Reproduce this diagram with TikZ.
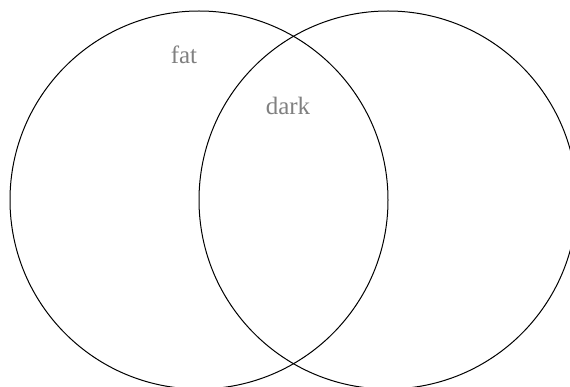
\documentclass[tikz,border=0pt]{standalone}
\usepackage{fontspec}
\setmainfont{Liberation Serif}
\usepackage{xcolor}
\usetikzlibrary{positioning}
\definecolor{labelgrey}{HTML}{808080}
\tikzset{
  setcircle/.style={
    circle, draw=black, line width=1pt, inner sep=0pt,
    minimum size=378pt
  },
  setlabel/.style={
    inner sep=0pt, text=labelgrey, font=\fontsize{25}{28}\selectfont
  },
}

\begin{document}
\begin{tikzpicture}[x=1pt,y=-1pt]
  \useasboundingbox (0,0) rectangle (570,387);
  \begin{scope}
    \clip (0,0) rectangle (570,387);
    \node[setcircle] (fatset) at (199,200) {};
    \node[setcircle] (darkset) at (388,200) {};
  \end{scope}
  \node[setlabel] (fat) at (184,55) {fat};
  \node[setlabel] (dark) at (288,106) {dark};
\end{tikzpicture}
\end{document}
